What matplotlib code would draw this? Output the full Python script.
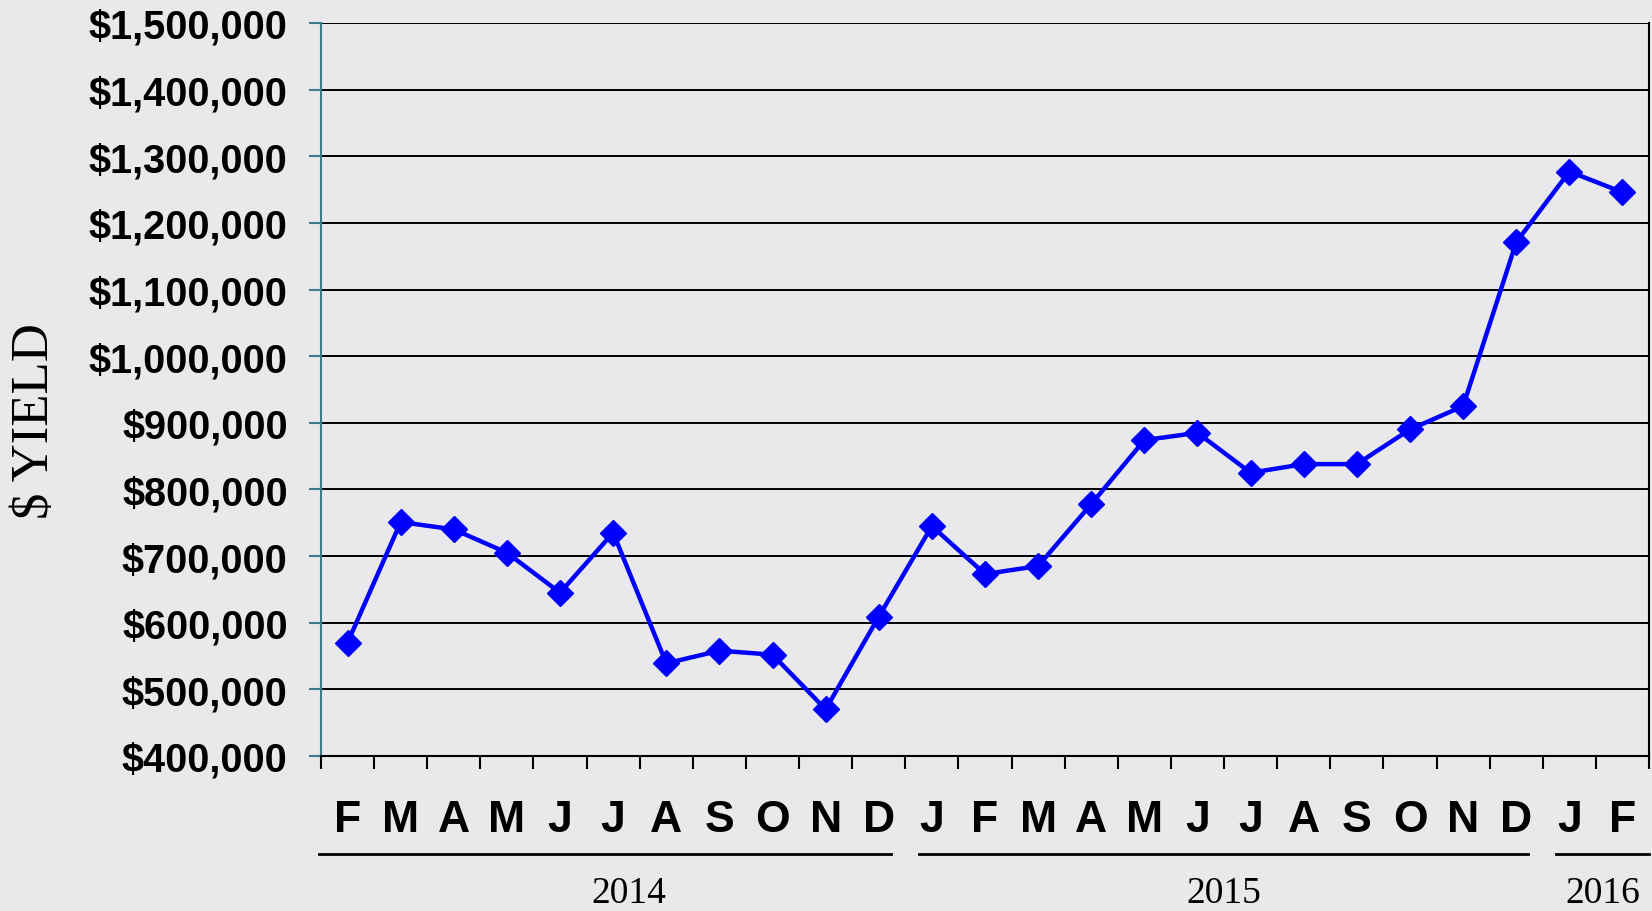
import matplotlib
matplotlib.use("Agg")
import matplotlib.pyplot as plt
from matplotlib.ticker import FuncFormatter, FixedLocator
from matplotlib.font_manager import findfont, FontProperties

# data
months = ["F", "M", "A", "M", "J", "J", "A", "S", "O", "N", "D",
          "J", "F", "M", "A", "M", "J", "J", "A", "S", "O", "N", "D",
          "J", "F"]
yield_usd = [570000, 751000, 740000, 705000, 645000, 735000, 539000, 558000,
             552000, 470000, 609000, 745000, 673000, 685000, 778000, 874000,
             885000, 825000, 838000, 838000, 890000, 925000, 1171000,
             1277000, 1246000]
years = ["2014", "2015", "2016"]
year_month_counts = [11, 12, 2]

bg = "#E9E9EB"
teal = "#3C7C8C"

# narrow bold face for month letters, if installed
narrow = "Liberation Sans Narrow"
try:
    findfont(FontProperties(family=narrow), fallback_to_default=False)
except Exception:
    narrow = "Liberation Sans"

fig = plt.figure(figsize=(16.52, 9.12), dpi=100, facecolor=bg)
ax = fig.add_axes([0.1943, 0.170, 0.8039, 0.8037])
ax.set_facecolor(bg)

x = list(range(len(months)))
ax.plot(x, yield_usd, color="#0000FF", lw=3.2, marker="D", ms=13,
        markeredgecolor="#0000FF", zorder=3)

ax.set_xlim(-0.5, len(months) - 0.5)
ax.set_ylim(400000, 1500000)

# y axis
ax.set_yticks(range(400000, 1500001, 100000))
ax.yaxis.set_major_formatter(FuncFormatter(lambda v, p: f"${v:,.0f}"))
ax.tick_params(axis="y", direction="out", length=9, width=1.5, color=teal,
               pad=15, labelsize=28.5)
for lbl in ax.get_yticklabels():
    lbl.set_fontfamily("Liberation Sans")
    lbl.set_fontweight("bold")
ax.yaxis.grid(True, color="black", lw=1.4)
ax.set_axisbelow(True)

# x axis: tick marks at month boundaries, letters at month centres
ax.xaxis.set_major_locator(FixedLocator([i - 0.5 for i in range(len(months) + 1)]))
ax.xaxis.set_minor_locator(FixedLocator(x))
ax.set_xticklabels([])
ax.set_xticklabels(months, minor=True)
ax.tick_params(axis="x", which="major", direction="out", length=9, width=1.5,
               color="black")
ax.tick_params(axis="x", which="minor", length=0, pad=31, labelsize=32)
for lbl in ax.get_xticklabels(minor=True):
    lbl.set_fontfamily(narrow)
    lbl.set_fontweight("bold")

ax.spines["left"].set_color(teal)
ax.spines["left"].set_linewidth(1.5)
ax.spines["bottom"].set_linewidth(1.5)
ax.spines["right"].set_linewidth(1.5)
ax.spines["top"].set_visible(False)

# year groups under the month letters
trans = ax.get_xaxis_transform()
start = 0
for i, (yr, n) in enumerate(zip(years, year_month_counts)):
    end = start + n - 1
    x0 = start - 0.5 + (0.25 if i > 0 else -0.04)
    x1 = end + 0.5 - (0.27 if i < len(years) - 1 else 0)
    ax.plot([x0, x1], [-0.134, -0.134], color="black", lw=2,
            transform=trans, clip_on=False)
    shift = 0.45 if i == 0 else 0
    ax.text((x0 + x1) / 2 + shift, -0.186, yr, transform=trans, ha="center",
            va="center", fontsize=27, family="Liberation Serif")
    start = end + 1

fig.text(0.021, 0.538, "$ YIELD", rotation=90, ha="center", va="center",
         fontsize=38, family="Liberation Serif")

fig.savefig("out.png", dpi=100, facecolor=bg)
